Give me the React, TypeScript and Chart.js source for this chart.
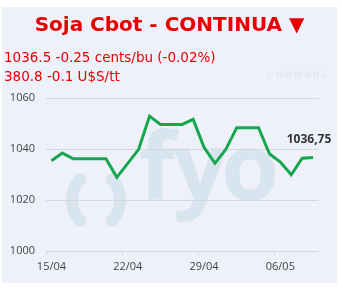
import React, { useEffect, useRef } from 'react';
import { Chart, registerables } from 'chart.js';

Chart.register(...registerables);

const categories = [
  '15/04', '16/04', '17/04', '18/04', '19/04', '20/04', '21/04',
  '22/04', '23/04', '24/04', '25/04', '26/04', '27/04', '28/04',
  '29/04', '30/04', '01/05', '02/05', '03/05', '04/05', '05/05',
  '06/05', '07/05', '08/05', '09/05',
];
const prices = [
  1035.5, 1038.5, 1036.25, 1036.25, 1036.25, 1036.25, 1029,
  1034.5, 1040, 1053, 1049.75, 1049.75, 1049.75, 1051.75,
  1040.75, 1034.5, 1040, 1048.5, 1048.5, 1048.5, 1038.25,
  1035, 1030, 1036.5, 1036.75,
];
const yMin = 1000;
const yMax = 1060;
const yStep = 20;
const labelEvery = 7;
const lastLabel = '1036,75';
const titleText = 'Soja Cbot - CONTINUA \u25BC';
const infoLine1 = '1036.5 -0.25 cents/bu (-0.02%)';
const infoLine2 = '380.8 -0.1 U$S/tt';
const watermarkText = '\u00A9NOMBRE';

const GRID = '#d3d8df';
const TICK_TEXT = '#444444';
const LINE = '#16a650';
const MARK = '#d8e5ef';

const watermarkPlugin = {
  id: 'fyoWatermark',
  beforeDraw(chart: any) {
    const ctx = chart.ctx;
    ctx.save();
    ctx.strokeStyle = MARK;
    ctx.fillStyle = MARK;
    ctx.lineWidth = 12;
    ctx.lineCap = 'round';
    ctx.beginPath();
    ctx.ellipse(96, 200, 24, 28, 0, Math.PI - 0.85, Math.PI + 0.85);
    ctx.stroke();
    ctx.beginPath();
    ctx.ellipse(96, 200, 24, 28, 0, -0.85, 0.85);
    ctx.stroke();
    ctx.font = 'bold 94px "Open Sans"';
    ctx.textAlign = 'center';
    ctx.textBaseline = 'alphabetic';
    ctx.fillText('f', 157, 200);
    ctx.fillText('y', 200, 200);
    ctx.fillText('o', 250, 200);
    ctx.restore();
  },
};

const lastValuePlugin = {
  id: 'lastValue',
  afterDatasetsDraw(chart: any) {
    const meta = chart.getDatasetMeta(0);
    const pt = meta.data[meta.data.length - 1];
    if (!pt) return;
    const ctx = chart.ctx;
    ctx.save();
    ctx.font = 'bold 12px "Open Sans"';
    ctx.fillStyle = '#333333';
    ctx.textAlign = 'center';
    ctx.textBaseline = 'alphabetic';
    ctx.fillText(lastLabel, pt.x - 4, pt.y - 15);
    ctx.restore();
  },
};

export default function App() {
  const canvasRef = useRef<HTMLCanvasElement | null>(null);

  useEffect(() => {
    if (!canvasRef.current) return;
    const chart = new Chart(canvasRef.current, {
      type: 'line',
      data: {
        labels: categories,
        datasets: [
          {
            data: prices,
            borderColor: LINE,
            borderWidth: 3,
            pointRadius: 0,
            tension: 0,
            fill: false,
          },
        ],
      },
      options: {
        animation: false,
        responsive: false,
        maintainAspectRatio: false,
        layout: { padding: { top: 98.3, right: 23.5, bottom: 0, left: 0 } },
        plugins: {
          legend: { display: false },
          tooltip: { enabled: false },
          title: { display: false },
        },
        scales: {
          x: {
            type: 'category',
            offset: true,
            border: { display: false },
            grid: {
              display: true,
              offset: true,
              drawOnChartArea: false,
              drawTicks: true,
              tickLength: 4,
              tickColor: (c: any) => (c.index % labelEvery === 0 ? GRID : 'rgba(0,0,0,0)'),
            },
            ticks: {
              autoSkip: false,
              maxRotation: 0,
              padding: 5,
              color: TICK_TEXT,
              font: { family: '"Open Sans"', size: 11 },
              callback: (_v: any, i: number) => (i % labelEvery === 0 ? categories[i] : ''),
            },
            afterFit: (s: any) => {
              s.height = 36.7;
            },
          },
          y: {
            min: yMin,
            max: yMax,
            border: { display: false },
            grid: { color: GRID, drawTicks: false, lineWidth: 1 },
            ticks: {
              stepSize: yStep,
              padding: 11,
              color: TICK_TEXT,
              font: { family: '"Open Sans"', size: 11 },
              callback: (v: any) => String(v),
            },
            afterFit: (s: any) => {
              s.width = 46;
            },
          },
        },
      },
      plugins: [watermarkPlugin, lastValuePlugin],
    } as any);
    return () => chart.destroy();
  }, []);

  return (
    <div style={{ position: 'absolute', left: 0, top: 0, width: 342, height: 288, background: '#ffffff', overflow: 'hidden' }}>
      <div style={{ position: 'absolute', left: 2, top: 7, width: 335, height: 276, background: '#eef1f9' }} />
      <canvas ref={canvasRef} width={342} height={288} style={{ position: 'absolute', left: 0, top: 0, width: 342, height: 288 }} />
      <div
        style={{
          position: 'absolute', left: 2, top: 13.8, width: 335, textAlign: 'center',
          fontFamily: '"DejaVu Sans", Verdana, sans-serif', fontWeight: 'bold', fontSize: 20, lineHeight: '20px',
          color: '#e60000', whiteSpace: 'nowrap',
        }}
      >
        {titleText}
      </div>
      <div
        style={{
          position: 'absolute', left: 4, top: 51.3, fontFamily: '"DejaVu Sans", Verdana, sans-serif',
          fontSize: 13.5, lineHeight: '13.5px', color: '#e60000', whiteSpace: 'nowrap',
        }}
      >
        {infoLine1}
      </div>
      <div
        style={{
          position: 'absolute', left: 4, top: 69.6, fontFamily: '"DejaVu Sans", Verdana, sans-serif',
          fontSize: 13.5, lineHeight: '13.5px', color: '#e60000', whiteSpace: 'nowrap',
        }}
      >
        {infoLine2}
      </div>
      <div
        style={{
          position: 'absolute', left: 265, top: 70, fontFamily: '"DejaVu Sans", sans-serif', fontWeight: 'bold',
          fontSize: 9, lineHeight: '10px', letterSpacing: 1.5, color: '#e3e8f4', whiteSpace: 'nowrap',
        }}
      >
        {watermarkText}
      </div>
    </div>
  );
}
